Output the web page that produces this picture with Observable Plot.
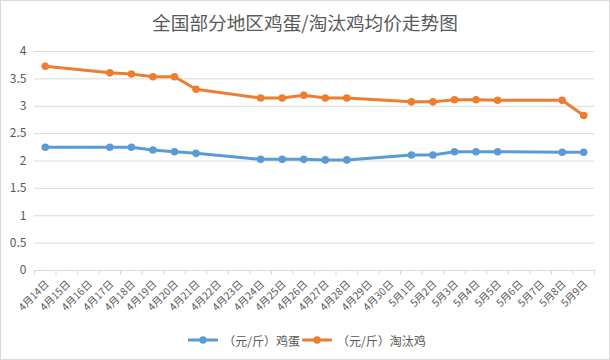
<!DOCTYPE html>
<html>
<head>
<meta charset="utf-8">
<script src="https://cdn.jsdelivr.net/npm/d3@7"></script>
<script src="https://cdn.jsdelivr.net/npm/@observablehq/plot@0.6"></script>
<style>
  html, body { margin: 0; padding: 0; background: #fff; }
  #chart {
    width: 610px; height: 360px; box-sizing: border-box;
    border: 1px solid #d9d9d9; background: #fff;
    font-family: "Noto Sans CJK SC", "Noto Sans", sans-serif; color: #595959;
    position: relative; overflow: hidden;
  }
  #title { height: 39px; line-height: 42px; text-align: center; font-size: 18.67px; color: #595959; }
  #legend { height: 30px; display: flex; justify-content: center; align-items: center; font-size: 12px; color: #595959; padding-left: 4px; }
  .item { display: flex; align-items: center; margin: 0 1px; }
  .item svg { margin-right: 5px; }
  #plot svg { display: block; }
</style>
</head>
<body>
<div id="chart">
  <div id="title">全国部分地区鸡蛋/淘汰鸡均价走势图</div>
  <div id="plot"></div>
  <div id="legend"></div>
</div>
<script>
// Category axis (every day)
const allDates = ["4月14日","4月15日","4月16日","4月17日","4月18日","4月19日","4月20日","4月21日","4月22日","4月23日","4月24日","4月25日","4月26日","4月27日","4月28日","4月29日","4月30日","5月1日","5月2日","5月3日","5月4日","5月5日","5月6日","5月7日","5月8日","5月9日"];
// Days with data
const pointDates = ["4月14日","4月17日","4月18日","4月19日","4月20日","4月21日","4月24日","4月25日","4月26日","4月27日","4月28日","5月1日","5月2日","5月3日","5月4日","5月5日","5月8日","5月9日"];
const eggValues = [2.25,2.25,2.25,2.20,2.17,2.14,2.03,2.03,2.03,2.02,2.02,2.11,2.11,2.17,2.17,2.17,2.16,2.16];
const henValues = [3.73,3.61,3.59,3.54,3.54,3.31,3.15,3.15,3.20,3.15,3.15,3.08,3.08,3.12,3.12,3.11,3.11,2.83];
const seriesNames = ["（元/斤）鸡蛋", "（元/斤）淘汰鸡"];
const seriesColors = ["#5B9BD5", "#ED7D31"];
const yTicks = [0, 0.5, 1, 1.5, 2, 2.5, 3, 3.5, 4];

const rows = [];
pointDates.forEach((d, i) => {
  rows.push({date: d, value: eggValues[i], series: seriesNames[0]});
  rows.push({date: d, value: henValues[i], series: seriesNames[1]});
});

const W = 608, H = 285, ML = 33, MR = 15, MT = 11, MB = 55;
const bw = (W - ML - MR) / allDates.length;

const plot = Plot.plot({
  width: W, height: H,
  marginLeft: ML, marginRight: MR, marginTop: MT, marginBottom: MB,
  style: {fontFamily: '"Noto Sans CJK SC", "Noto Sans", sans-serif', background: "transparent", color: "#595959", overflow: "visible"},
  x: {type: "band", domain: allDates, padding: 0, round: false},
  y: {domain: [0, 4]},
  color: {domain: seriesNames, range: seriesColors},
  marks: [
    Plot.gridY(yTicks, {stroke: "#d9d9d9", strokeOpacity: 1, strokeWidth: 1}),
    Plot.axisY({ticks: yTicks, tickSize: 0, tickPadding: 8, label: null, fontSize: 12, fill: "#595959", tickFormat: d => String(d)}),
    Plot.axisX({tickSize: 5, tickFormat: () => "", label: null, dx: -bw / 2, stroke: "#d9d9d9"}),
    Plot.axisX({ticks: [allDates[allDates.length - 1]], tickSize: 5, tickFormat: () => "", label: null, dx: bw / 2, stroke: "#d9d9d9"}),
    Plot.axisX({tickSize: 0, tickPadding: 12, dx: 2, tickRotate: -45, label: null, fontSize: 10.3, fill: "#595959"}),
    Plot.line(rows, {x: "date", y: "value", z: "series", stroke: "series", strokeWidth: 3, strokeLinejoin: "round", strokeLinecap: "round"}),
    Plot.dot(rows, {x: "date", y: "value", fill: "series", r: 3.8, stroke: "none"})
  ]
});
document.getElementById("plot").appendChild(plot);

const legend = document.getElementById("legend");
seriesNames.forEach((name, i) => {
  const item = document.createElement("div");
  item.className = "item";
  item.innerHTML = `<svg width="30" height="10"><line x1="1" y1="5" x2="29" y2="5" stroke="${seriesColors[i]}" stroke-width="3" stroke-linecap="round"/><circle cx="15" cy="5" r="3.8" fill="${seriesColors[i]}"/></svg><span>${name}</span>`;
  legend.appendChild(item);
});
</script>
</body>
</html>
